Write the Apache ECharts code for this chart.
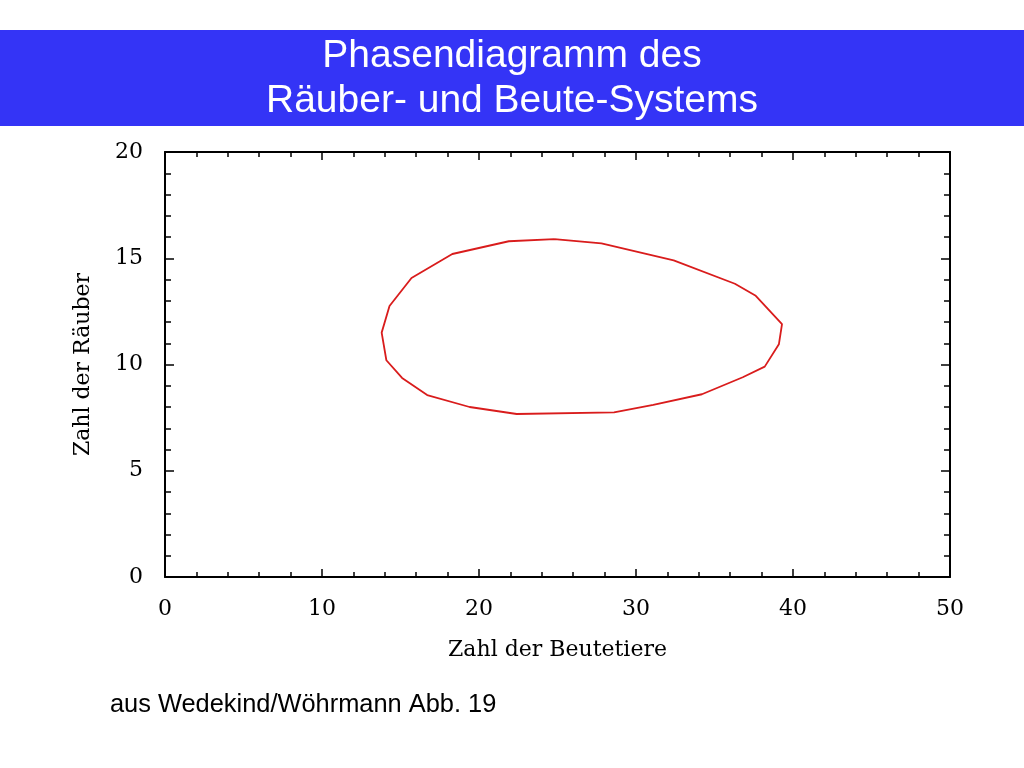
<!DOCTYPE html>
<html>
<head>
<meta charset="utf-8">
<script src="https://cdn.jsdelivr.net/npm/echarts@6/dist/echarts.min.js"></script>
<style>
html,body{margin:0;padding:0;background:#fff;}
#chart{width:1024px;height:768px;}
</style>
</head>
<body>
<div id="chart"></div>
<script>
// Prey (x) and predator (y) values along the closed phase curve
var preyValues = [24.8, 27.8, 32.4, 36.3, 37.6, 39.3, 39.1, 38.2, 36.8, 34.2, 31.1, 28.6, 22.4, 19.4, 16.7, 15.1, 14.1, 13.8, 14.3, 15.7, 18.3, 21.9, 24.8];
var predatorValues = [15.9, 15.7, 14.9, 13.8, 13.25, 11.9, 10.95, 9.9, 9.4, 8.6, 8.1, 7.75, 7.67, 8.0, 8.56, 9.37, 10.2, 11.5, 12.75, 14.07, 15.2, 15.8, 15.9];
var xTickLabels = ['0', '10', '20', '30', '40', '50'];
var yTickLabels = ['0', '5', '10', '15', '20'];
var titleLines = ['Phasendiagramm des', 'Räuber- und Beute-Systems'];
var xName = 'Zahl der Beutetiere';
var yName = 'Zahl der Räuber';
var sourceText = 'aus Wedekind/Wöhrmann Abb. 19';

var pts = preyValues.map(function (v, i) { return [v, predatorValues[i]]; });

var serif = 'DejaVu Serif';
function axisBase(labels, interval, showLabel, position, tickLen, minorLen) {
  return {
    type: 'value',
    position: position,
    min: 0,
    max: interval * (labels.length - 1),
    interval: interval,
    axisLine: { show: true, onZero: false, lineStyle: { color: '#000', width: 2 } },
    axisTick: { show: true, inside: true, length: tickLen, lineStyle: { color: '#000', width: 1.5 } },
    minorTick: { show: true, splitNumber: 5, length: minorLen, lineStyle: { color: '#000', width: 1.5 } },
    splitLine: { show: false },
    minorSplitLine: { show: false },
    axisLabel: {
      show: showLabel,
      color: '#000',
      fontFamily: serif,
      fontSize: 22,
      margin: 21,
      formatter: function (v) { return labels[Math.round(v / interval)]; }
    }
  };
}

var xBottom = axisBase(xTickLabels, 10, true, 'bottom', 8, 5);
xBottom.name = xName;
xBottom.nameLocation = 'middle';
xBottom.nameGap = 62;
xBottom.nameTextStyle = { color: '#000', fontFamily: serif, fontSize: 22 };
var xTop = axisBase(xTickLabels, 10, false, 'top', 8, 5);

var yLeft = axisBase(yTickLabels, 5, true, 'left', 9, 6);
yLeft.name = yName;
yLeft.nameLocation = 'middle';
yLeft.nameGap = 71;
yLeft.nameTextStyle = { color: '#000', fontFamily: serif, fontSize: 22 };
yLeft.axisLabel.margin = 22;
var yRight = axisBase(yTickLabels, 5, false, 'right', 9, 6);

var chart = echarts.init(document.getElementById('chart'), null, { renderer: 'canvas' });
chart.setOption({
  animation: false,
  backgroundColor: '#fff',
  grid: { left: 165, right: 74, top: 152, bottom: 191, containLabel: false },
  xAxis: [xBottom, xTop],
  yAxis: [yLeft, yRight],
  series: [{
    type: 'line',
    xAxisIndex: 0,
    yAxisIndex: 0,
    data: pts,
    showSymbol: false,
    symbol: 'none',
    smooth: false,
    lineStyle: { color: '#d91c1c', width: 1.8 }
  }],
  graphic: [
    { type: 'rect', shape: { x: 0, y: 30, width: 1024, height: 96 }, style: { fill: '#3434f6' }, z: 0 },
    { type: 'text', style: { x: 512, y: 79, text: titleLines.join('\n'), fill: '#fff', font: '39px "Liberation Sans", Arial, sans-serif', align: 'center', verticalAlign: 'middle', lineHeight: 45 }, z: 1 },
    { type: 'text', style: { x: 110, y: 705, text: sourceText, fill: '#000', font: '25.4px "Liberation Sans", Arial, sans-serif', align: 'left', verticalAlign: 'middle' }, z: 1 }
  ]
});
</script>
</body>
</html>
